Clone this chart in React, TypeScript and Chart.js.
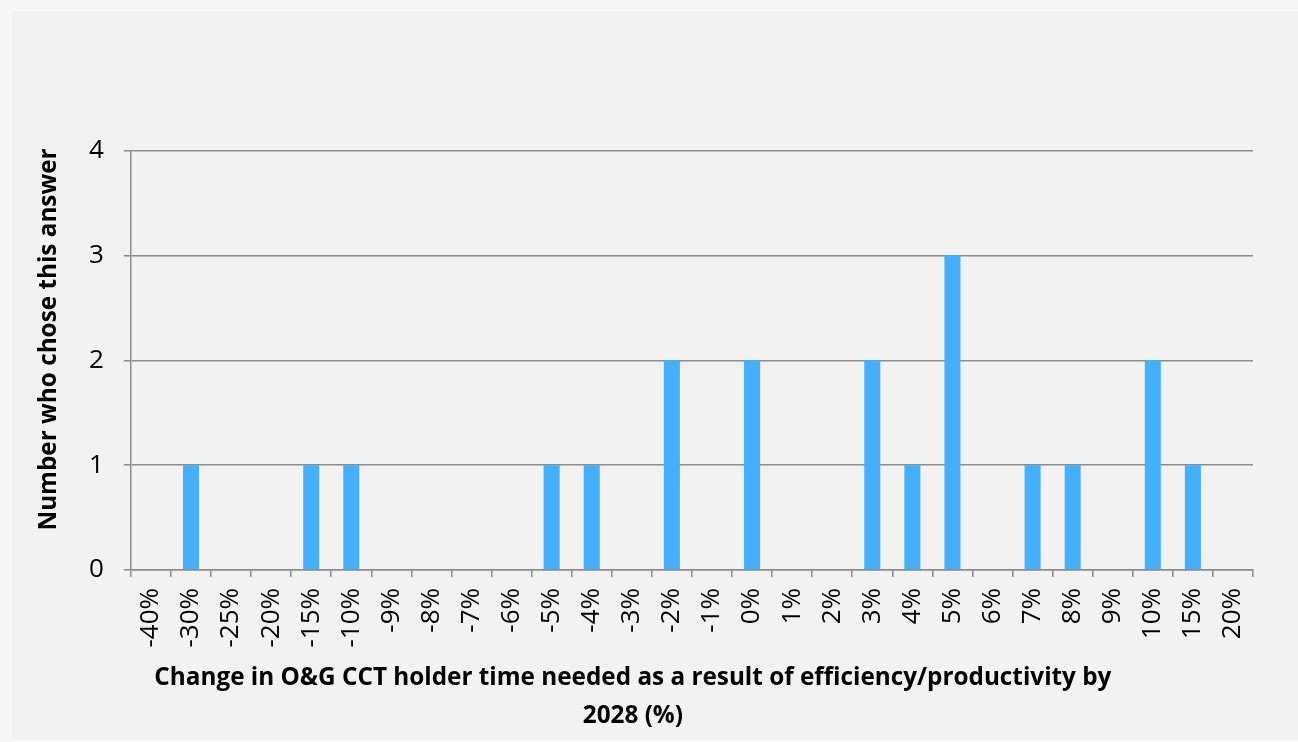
import React, { useEffect, useRef } from "react";
import { Chart, registerables } from "chart.js";

Chart.register(...registerables);

const categories = [
  "-40%", "-30%", "-25%", "-20%", "-15%", "-10%", "-9%", "-8%", "-7%", "-6%",
  "-5%", "-4%", "-3%", "-2%", "-1%", "0%", "1%", "2%", "3%", "4%",
  "5%", "6%", "7%", "8%", "9%", "10%", "15%", "20%",
];
const counts = [
  0, 1, 0, 0, 1, 1, 0, 0, 0, 0,
  1, 1, 0, 2, 0, 2, 0, 0, 2, 1,
  3, 0, 1, 1, 0, 2, 1, 0,
];
const yTicks = [0, 1, 2, 3, 4];
const yTitle = "Number who chose this answer";
const xTitleLines = [
  "Change in O&G CCT holder time needed as a result of efficiency/productivity by",
  "2028 (%)",
];

const FONT = "'Open Sans', sans-serif";
const GRID = "#8c8c8c";

const titlePlugin = {
  id: "customTitles",
  afterDraw(chart: any) {
    const { ctx, chartArea } = chart;
    ctx.save();
    ctx.fillStyle = "#000";
    ctx.font = `bold 24.3px ${FONT}`;
    ctx.textAlign = "center";
    ctx.textBaseline = "middle";
    ctx.save();
    ctx.translate(chartArea.left - 82, chartArea.top + 189);
    ctx.rotate(-Math.PI / 2);
    ctx.fillText(yTitle, 0, 0);
    ctx.restore();
    const cx = chartArea.left + 502;
    ctx.fillText(xTitleLines[0], cx, chartArea.bottom + 108);
    ctx.fillText(xTitleLines[1], cx, chartArea.bottom + 146);
    ctx.restore();
  },
};

export default function App() {
  const ref = useRef<HTMLCanvasElement>(null);
  useEffect(() => {
    document.body.style.margin = "0";
    const chart = new Chart(ref.current!, {
      type: "bar",
      data: {
        labels: categories,
        datasets: [
          {
            data: counts,
            backgroundColor: "#44b0ff",
            borderWidth: 0,
            barPercentage: 0.4,
            categoryPercentage: 1,
          },
        ],
      },
      options: {
        animation: false,
        responsive: false,
        maintainAspectRatio: false,
        layout: { padding: { left: 69, right: 45, top: 150.5, bottom: 83.4 } },
        plugins: { legend: { display: false }, tooltip: { enabled: false } },
        scales: {
          x: {
            grid: {
              display: true,
              drawOnChartArea: false,
              drawTicks: true,
              tickLength: 7,
              color: GRID,
              lineWidth: 1.5,
              offset: true,
            },
            border: { display: true, color: GRID, width: 1.5 },
            ticks: {
              color: "#000",
              font: { family: FONT, size: 26 },
              minRotation: 90,
              maxRotation: 90,
              padding: 11,
              autoSkip: false,
            },
          },
          y: {
            min: 0,
            max: 4,
            afterBuildTicks: (scale: any) => {
              scale.ticks = yTicks.map((v) => ({ value: v }));
            },
            grid: {
              color: GRID,
              lineWidth: 1.5,
              tickLength: 7,
              drawTicks: true,
            },
            border: { display: true, color: GRID, width: 1.5 },
            ticks: {
              color: "#000",
              font: { family: FONT, size: 26 },
              padding: 20,
            },
          },
        },
      },
      plugins: [titlePlugin],
    });
    return () => chart.destroy();
  }, []);

  return (
    <div style={{ position: "relative", width: 1298, height: 742, background: "#f7f7f7" }}>
      <div
        style={{
          position: "absolute",
          left: 12,
          top: 11,
          right: 0,
          bottom: 2,
          background: "#f2f2f2",
        }}
      />
      <canvas
        ref={ref}
        width={1298}
        height={742}
        style={{ position: "absolute", left: 0, top: 0, width: 1298, height: 742 }}
      />
    </div>
  );
}
